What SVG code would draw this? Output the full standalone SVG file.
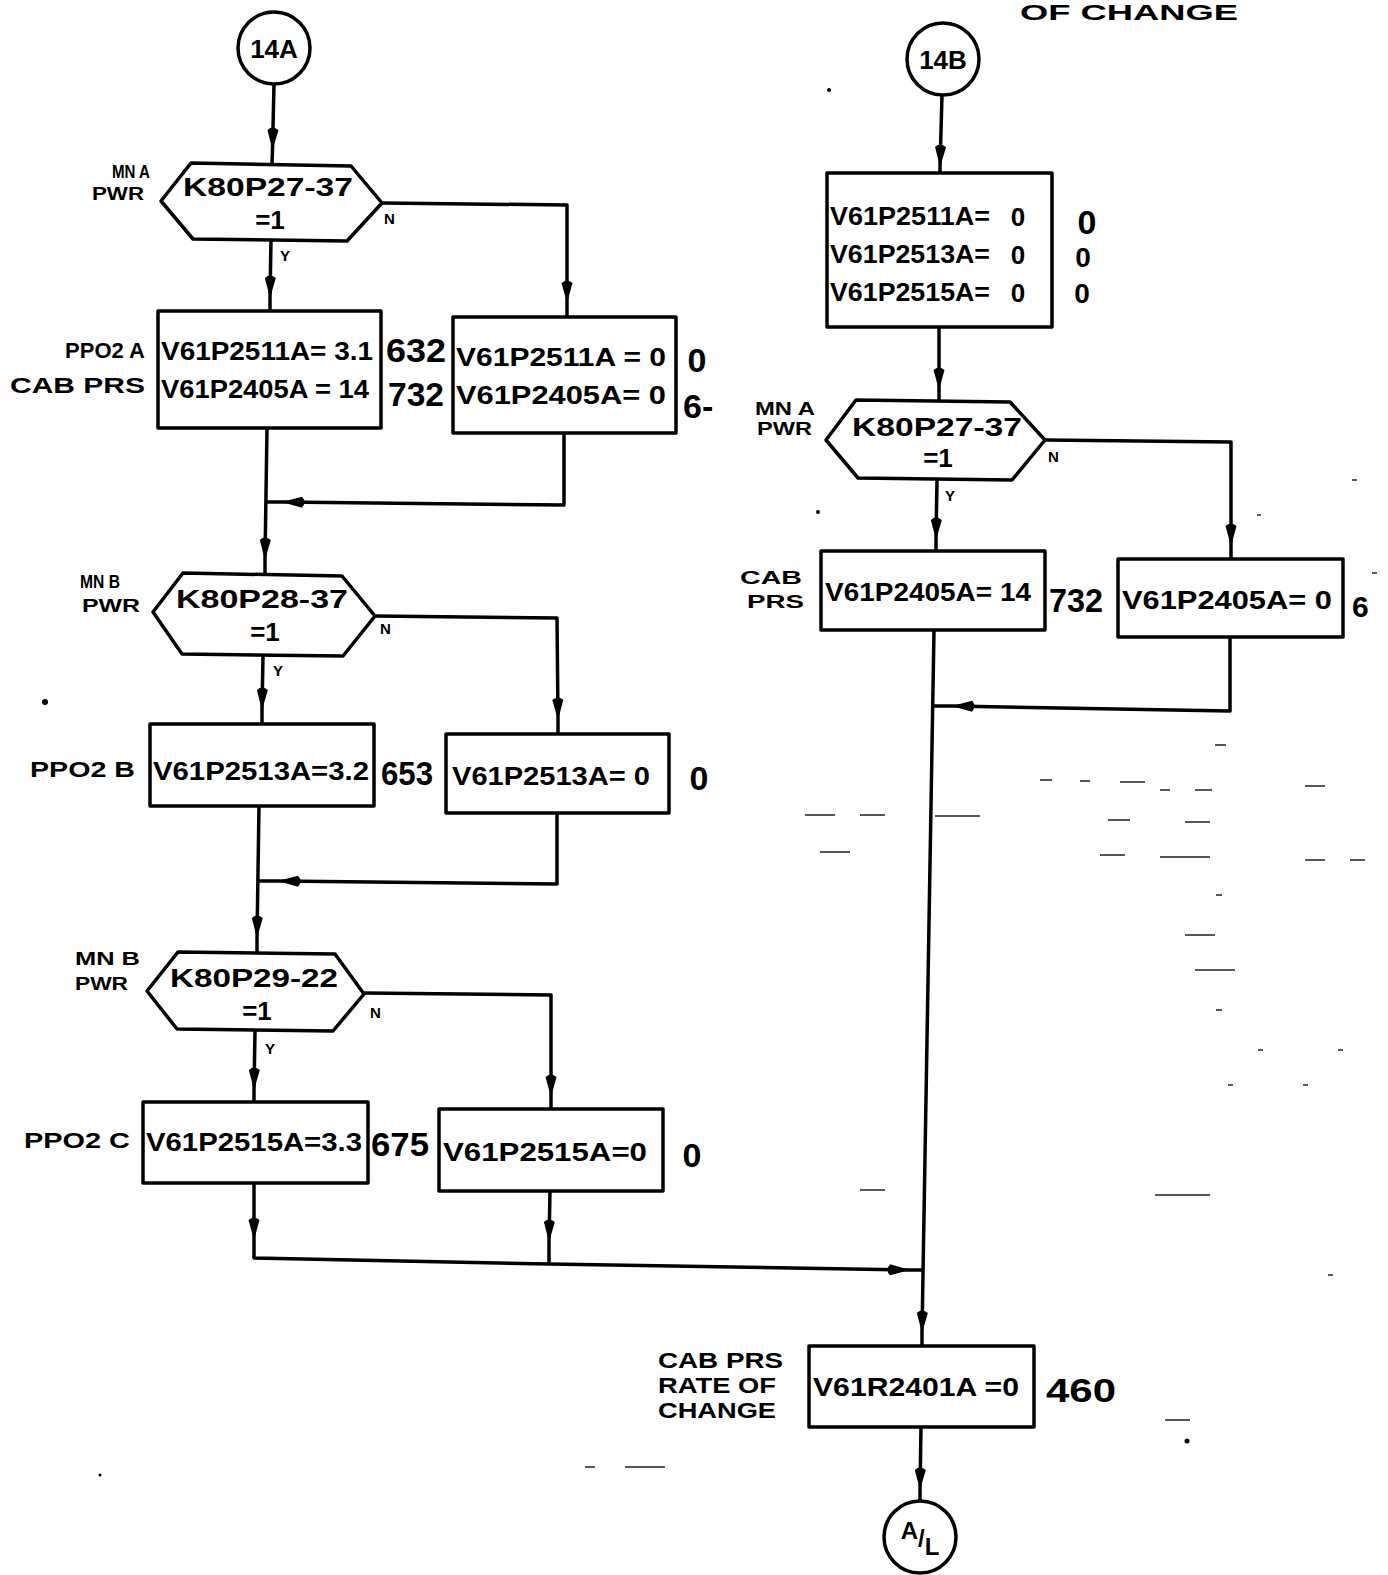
<svg xmlns="http://www.w3.org/2000/svg" width="1388" height="1575" viewBox="0 0 1388 1575">
<style>
.bx{fill:#fff;stroke:#000;stroke-width:3.5;stroke-linejoin:round}
.ln{fill:none;stroke:#000;stroke-width:3.5;stroke-linejoin:round}
.t{font-family:"Liberation Sans",Arial,sans-serif;font-weight:bold;fill:#000}
.bt{font-size:26px}
.lb{font-size:22px}
.sm{font-size:19px}
.yn{font-size:15px}
.num{font-size:34px}
.ms{fill:none;stroke:#222;stroke-width:1.5}
</style>
<defs>
<marker id="ah" viewBox="-26 -7 28 14" refX="0" refY="0" markerWidth="28" markerHeight="14" markerUnits="userSpaceOnUse" orient="auto">
<path d="M0,0 L-20,-5.5 Q-25,0 -20,5.5 Z" fill="#000"/>
</marker>
</defs>
<rect width="1388" height="1575" fill="#fff"/>

<text class="t" x="1020" y="20" font-size="22" textLength="218" lengthAdjust="spacingAndGlyphs">OF CHANGE</text>

<g id="connectors">
<path class="ln" d="M274,84 L272.5,150" marker-end="url(#ah)"/><path class="ln" d="M272.5,150 L272,163"/>
<path class="ln" d="M271,240 L270,298" marker-end="url(#ah)"/><path class="ln" d="M270,298 L270,311"/>
<path class="ln" d="M382,203 L567,205 L567,303" marker-end="url(#ah)"/><path class="ln" d="M567,303 L567,317"/>
<path class="ln" d="M564,433 L564,505 L282,502" marker-end="url(#ah)"/><path class="ln" d="M282,502 L266,502"/>
<path class="ln" d="M267,428 L265,560" marker-end="url(#ah)"/><path class="ln" d="M265,560 L265,575"/>
<path class="ln" d="M263,656 L262,710" marker-end="url(#ah)"/><path class="ln" d="M262,710 L262,724"/>
<path class="ln" d="M375,616 L557,618 L558,720" marker-end="url(#ah)"/><path class="ln" d="M558,720 L558,734"/>
<path class="ln" d="M557,813 L557,884 L278,881" marker-end="url(#ah)"/><path class="ln" d="M278,881 L259,881"/>
<path class="ln" d="M259,806 L257,938" marker-end="url(#ah)"/><path class="ln" d="M257,938 L257,952"/>
<path class="ln" d="M255,1031 L254,1090" marker-end="url(#ah)"/><path class="ln" d="M254,1090 L254,1102"/>
<path class="ln" d="M364,993 L551,995 L551,1097" marker-end="url(#ah)"/><path class="ln" d="M551,1097 L551,1110"/>
<path class="ln" d="M254,1183 L254,1240" marker-end="url(#ah)"/><path class="ln" d="M254,1240 L254,1258 L549,1264"/>
<path class="ln" d="M550,1191 L549,1242" marker-end="url(#ah)"/><path class="ln" d="M549,1242 L549,1264"/>
<path class="ln" d="M549,1264 L910,1270" marker-end="url(#ah)"/><path class="ln" d="M910,1270 L922,1270"/>
<path class="ln" d="M942,95 L940,167" marker-end="url(#ah)"/><path class="ln" d="M940,167 L940,173"/>
<path class="ln" d="M939,327 L939,390" marker-end="url(#ah)"/><path class="ln" d="M939,390 L939,401"/>
<path class="ln" d="M937,480 L936,540" marker-end="url(#ah)"/><path class="ln" d="M936,540 L936,551"/>
<path class="ln" d="M1045,440 L1231,442 L1231,546" marker-end="url(#ah)"/><path class="ln" d="M1231,546 L1231,559"/>
<path class="ln" d="M1230,637 L1230,711 L952,706" marker-end="url(#ah)"/><path class="ln" d="M952,706 L934,706"/>
<path class="ln" d="M934,630 L922,1333" marker-end="url(#ah)"/><path class="ln" d="M922,1333 L922,1346"/>
<path class="ln" d="M921,1427 L920,1490" marker-end="url(#ah)"/><path class="ln" d="M920,1490 L920,1501"/>
</g>

<g id="n14A">
<circle class="bx" cx="274" cy="48" r="36"/>
<text class="t" x="274" y="58" font-size="26" text-anchor="middle">14A</text>
</g>

<g id="d1">
<polygon class="bx" points="161,201 191,163 351,166 382,203 347,241 193,239"/>
<text class="t bt" x="183" y="196" textLength="170" lengthAdjust="spacingAndGlyphs">K80P27-37</text>
<text class="t bt" x="270" y="229" text-anchor="middle">=1</text>
<text class="t sm" x="112" y="178" textLength="38" lengthAdjust="spacingAndGlyphs">MN A</text>
<text class="t sm" x="92" y="200" textLength="52" lengthAdjust="spacingAndGlyphs">PWR</text>
<text class="t yn" x="384" y="224">N</text>
<text class="t yn" x="280" y="261">Y</text>
</g>

<g id="a1">
<rect class="bx" x="158" y="311" width="223" height="117"/>
<text class="t bt" x="161" y="360" textLength="212" lengthAdjust="spacingAndGlyphs">V61P2511A= 3.1</text>
<text class="t bt" x="161" y="398" textLength="208" lengthAdjust="spacingAndGlyphs">V61P2405A = 14</text>
<text class="t num" x="386" y="362" textLength="60" lengthAdjust="spacingAndGlyphs">632</text>
<text class="t num" x="388" y="406" textLength="56" lengthAdjust="spacingAndGlyphs">732</text>
<text class="t lb" x="145" y="358" text-anchor="end">PPO2 A</text>
<text class="t lb" x="145" y="393" text-anchor="end" textLength="135" lengthAdjust="spacingAndGlyphs">CAB PRS</text>
</g>

<g id="a2">
<rect class="bx" x="453" y="317" width="223" height="116"/>
<text class="t bt" x="456" y="366" textLength="210" lengthAdjust="spacingAndGlyphs">V61P2511A =  0</text>
<text class="t bt" x="456" y="404" textLength="210" lengthAdjust="spacingAndGlyphs">V61P2405A= 0</text>
<text class="t num" x="697" y="372" text-anchor="middle">0</text>
<text class="t num" x="683" y="418">6-</text>
</g>

<g id="d2">
<polygon class="bx" points="153,612 183,573 342,576 375,616 343,656 182,654"/>
<text class="t bt" x="176" y="608" textLength="172" lengthAdjust="spacingAndGlyphs">K80P28-37</text>
<text class="t bt" x="265" y="641" text-anchor="middle">=1</text>
<text class="t sm" x="80" y="588" textLength="40" lengthAdjust="spacingAndGlyphs">MN B</text>
<text class="t sm" x="82" y="612" textLength="58" lengthAdjust="spacingAndGlyphs">PWR</text>
<text class="t yn" x="380" y="634">N</text>
<text class="t yn" x="273" y="676">Y</text>
</g>

<g id="b1">
<rect class="bx" x="150" y="724" width="224" height="82"/>
<text class="t bt" x="153" y="780" textLength="216" lengthAdjust="spacingAndGlyphs">V61P2513A=3.2</text>
<text class="t num" x="381" y="785" textLength="52" lengthAdjust="spacingAndGlyphs">653</text>
<text class="t lb" x="30" y="777" textLength="105" lengthAdjust="spacingAndGlyphs">PPO2 B</text>
</g>

<g id="b2">
<rect class="bx" x="446" y="734" width="223" height="79"/>
<text class="t bt" x="452" y="785" textLength="198" lengthAdjust="spacingAndGlyphs">V61P2513A=  0</text>
<text class="t num" x="699" y="790" text-anchor="middle">0</text>
</g>

<g id="d3">
<polygon class="bx" points="147,991 178,952 335,954 364,994 333,1031 177,1029"/>
<text class="t bt" x="170" y="987" textLength="168" lengthAdjust="spacingAndGlyphs">K80P29-22</text>
<text class="t bt" x="257" y="1020" text-anchor="middle">=1</text>
<text class="t sm" x="75" y="965" textLength="65" lengthAdjust="spacingAndGlyphs">MN B</text>
<text class="t sm" x="75" y="990" textLength="53" lengthAdjust="spacingAndGlyphs">PWR</text>
<text class="t yn" x="370" y="1018">N</text>
<text class="t yn" x="265" y="1054">Y</text>
</g>

<g id="c1">
<rect class="bx" x="143" y="1102" width="225" height="81"/>
<text class="t bt" x="146" y="1151" textLength="216" lengthAdjust="spacingAndGlyphs">V61P2515A=3.3</text>
<text class="t num" x="371" y="1156" textLength="58" lengthAdjust="spacingAndGlyphs">675</text>
<text class="t lb" x="24" y="1148" textLength="106" lengthAdjust="spacingAndGlyphs">PPO2 C</text>
</g>

<g id="c2">
<rect class="bx" x="439" y="1109" width="224" height="82"/>
<text class="t bt" x="443" y="1161" textLength="204" lengthAdjust="spacingAndGlyphs">V61P2515A=0</text>
<text class="t num" x="692" y="1167" text-anchor="middle">0</text>
</g>

<g id="n14B">
<circle class="bx" cx="943" cy="59" r="36"/>
<text class="t" x="943" y="69" font-size="26" text-anchor="middle">14B</text>
</g>

<g id="r1">
<rect class="bx" x="827" y="173" width="225" height="154"/>
<text class="t bt" x="830" y="225" textLength="160" lengthAdjust="spacingAndGlyphs">V61P2511A=</text>
<text class="t bt" x="1018" y="226" text-anchor="middle">0</text>
<text class="t bt" x="830" y="263" textLength="160" lengthAdjust="spacingAndGlyphs">V61P2513A=</text>
<text class="t bt" x="1018" y="264" text-anchor="middle">0</text>
<text class="t bt" x="830" y="301" textLength="160" lengthAdjust="spacingAndGlyphs">V61P2515A=</text>
<text class="t bt" x="1018" y="302" text-anchor="middle">0</text>
<text class="t num" x="1087" y="234" text-anchor="middle">0</text>
<text class="t" x="1083" y="267" font-size="28" text-anchor="middle">0</text>
<text class="t" x="1082" y="303" font-size="28" text-anchor="middle">0</text>
</g>

<g id="d4">
<polygon class="bx" points="826,440 856,400 1010,402 1045,440 1012,480 858,478"/>
<text class="t bt" x="852" y="436" textLength="170" lengthAdjust="spacingAndGlyphs">K80P27-37</text>
<text class="t bt" x="938" y="467" text-anchor="middle">=1</text>
<text class="t sm" x="755" y="415" textLength="60" lengthAdjust="spacingAndGlyphs">MN A</text>
<text class="t sm" x="757" y="435" textLength="55" lengthAdjust="spacingAndGlyphs">PWR</text>
<text class="t yn" x="1048" y="462">N</text>
<text class="t yn" x="945" y="501">Y</text>
</g>

<g id="r2">
<rect class="bx" x="821" y="551" width="224" height="79"/>
<text class="t bt" x="825" y="601" textLength="206" lengthAdjust="spacingAndGlyphs">V61P2405A=  14</text>
<text class="t num" x="1049" y="612" textLength="54" lengthAdjust="spacingAndGlyphs">732</text>
<text class="t sm" x="740" y="584" textLength="62" lengthAdjust="spacingAndGlyphs">CAB</text>
<text class="t sm" x="747" y="608" textLength="57" lengthAdjust="spacingAndGlyphs">PRS</text>
</g>

<g id="r3">
<rect class="bx" x="1118" y="559" width="225" height="78"/>
<text class="t bt" x="1122" y="609" textLength="210" lengthAdjust="spacingAndGlyphs">V61P2405A= 0</text>
<text class="t" x="1352" y="617" font-size="30">6</text>
</g>

<g id="r4">
<rect class="bx" x="809" y="1346" width="225" height="81"/>
<text class="t bt" x="813" y="1396" textLength="206" lengthAdjust="spacingAndGlyphs">V61R2401A =0</text>
<text class="t num" x="1046" y="1402" textLength="70" lengthAdjust="spacingAndGlyphs">460</text>
<text class="t lb" x="658" y="1368" textLength="125" lengthAdjust="spacingAndGlyphs">CAB PRS</text>
<text class="t lb" x="658" y="1393" textLength="118" lengthAdjust="spacingAndGlyphs">RATE OF</text>
<text class="t lb" x="658" y="1418" textLength="118" lengthAdjust="spacingAndGlyphs">CHANGE</text>
</g>

<g id="nAL">
<circle class="bx" cx="920" cy="1537" r="36"/>
<text class="t" x="920" y="1547" font-size="24" text-anchor="middle"><tspan dy="-8">A</tspan><tspan dy="8">/</tspan><tspan dy="8">L</tspan></text>
</g>

<g id="marks">
<path class="ms" d="M1215,745 H1226 M1040,780 H1052 M1080,781 H1090 M1120,782 H1145 M1160,790 H1170 M1195,790 H1212 M1305,786 H1325 M805,815 H835 M860,815 H885 M935,816 H980 M1108,820 H1130 M1185,822 H1210 M820,852 H850 M1100,855 H1125 M1160,857 H1210 M1305,860 H1325 M1350,860 H1365 M1216,895 H1222 M1185,935 H1215 M1195,970 H1235 M1216,1010 H1222 M1258,1050 H1263 M1338,1050 H1343 M1228,1085 H1233 M1303,1085 H1308 M860,1190 H885 M1155,1195 H1210 M1328,1275 H1333 M1165,1420 H1190 M585,1467 H595 M625,1467 H665 M1352,480 H1357 M1257,515 H1261 M1372,573 H1377"/>
<circle cx="829" cy="90" r="2" fill="#000"/>
<circle cx="818" cy="512" r="2" fill="#000"/>
<circle cx="45" cy="702" r="3" fill="#000"/>
<circle cx="1187" cy="1441" r="2.5" fill="#000"/>
<circle cx="100" cy="1475" r="1.5" fill="#000"/>
</g>
</svg>
